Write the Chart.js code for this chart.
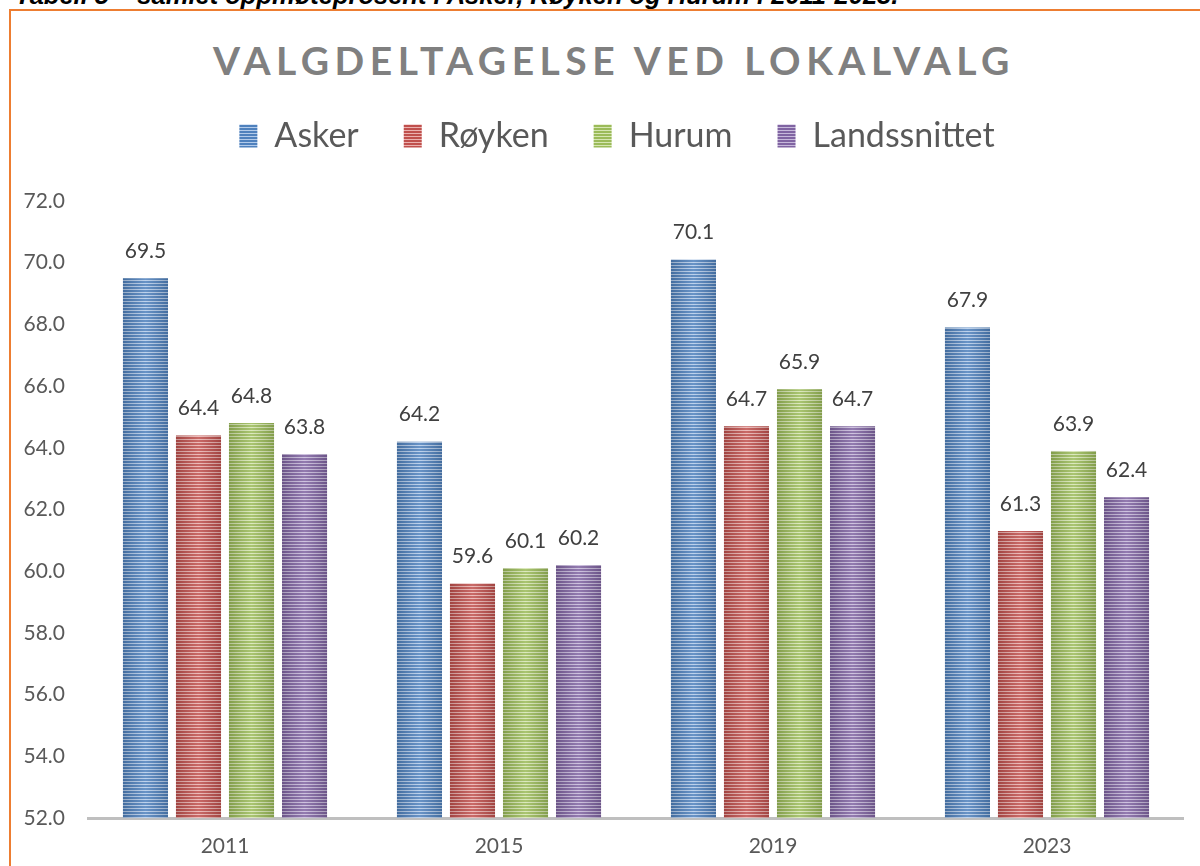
<!DOCTYPE html>
<html>
<head>
<meta charset="utf-8">
<script src="https://cdn.jsdelivr.net/npm/chart.js@4/dist/chart.umd.min.js"></script>
<style>
  html, body { margin: 0; padding: 0; background: #fff; overflow: hidden; }
  body { width: 1200px; height: 866px; position: relative; }
  #caption {
    position: absolute; left: 15px; top: -17px; white-space: nowrap;
    font: italic bold 25.5px "Liberation Sans", Arial, sans-serif; line-height: 25px; color: #000;
  }
  #frame {
    position: absolute; left: 9px; top: 9px; width: 1300px; height: 1000px;
    border: 2px solid #ED7D31;
  }
  #title {
    position: absolute; left: 0; width: 1228px; top: 36px; text-align: center;
    font: bold 39px Lato, sans-serif; letter-spacing: 5.5px; color: #808080; line-height: 48px;
  }
  #wrap { position: absolute; left: 0; top: 0; width: 1184px; height: 866px; }
</style>
</head>
<body>
<div id="caption">Tabell 5 – samlet oppmøteprosent i Asker, Røyken og Hurum i 2011-2023.</div>
<div id="frame"></div>
<div id="title">VALGDELTAGELSE VED LOKALVALG</div>
<div id="wrap"><canvas id="chart"></canvas></div>
<script>
document.addEventListener('DOMContentLoaded', function() {
    // Data
    const years = ['2011', '2015', '2019', '2023'];
    const asker = [69.5, 64.2, 70.1, 67.9];
    const royken = [64.4, 59.6, 64.7, 61.3];
    const hurum = [64.8, 60.1, 65.9, 63.9];
    const landssnittet = [63.8, 60.2, 64.7, 62.4];
    const yTicks = [52, 54, 56, 58, 60, 62, 64, 66, 68, 70, 72];

    // horizontal stripe fill like the Excel texture
    function stripes(dark, light) {
        const c = document.createElement('canvas');
        c.width = 4; c.height = 3;
        const g = c.getContext('2d');
        g.fillStyle = dark; g.fillRect(0, 0, 4, 3);
        g.fillStyle = light; g.fillRect(0, 1, 4, 1);
        return g.createPattern(c, 'repeat');
    }

    const series = [
        { label: 'Asker', data: asker, dark: '#4F81BD', light: '#B3CBEA' },
        { label: 'Røyken', data: royken, dark: '#C0504D', light: '#EBB1AF' },
        { label: 'Hurum', data: hurum, dark: '#9BBB59', light: '#D6E6B3' },
        { label: 'Landssnittet', data: landssnittet, dark: '#8064A2', light: '#C7B9DB' }
    ];

    // cylinder-like side shading + value labels
    const barDecor = {
        id: 'barDecor',
        afterDatasetsDraw(chart) {
            const ctx = chart.ctx;
            const bottom = chart.chartArea.bottom;
            chart.data.datasets.forEach((ds, di) => {
                chart.getDatasetMeta(di).data.forEach((bar, i) => {
                    const left = bar.x - bar.width / 2, right = bar.x + bar.width / 2;
                    const grad = ctx.createLinearGradient(left, 0, right, 0);
                    grad.addColorStop(0, 'rgba(0,0,0,0.16)');
                    grad.addColorStop(0.5, 'rgba(255,255,255,0.15)');
                    grad.addColorStop(1, 'rgba(0,0,0,0.16)');
                    ctx.save();
                    ctx.fillStyle = grad;
                    ctx.fillRect(left, bar.y, bar.width, bottom - bar.y);
                    ctx.fillStyle = '#404040';
                    ctx.font = '21px Lato';
                    ctx.textAlign = 'center';
                    ctx.textBaseline = 'middle';
                    ctx.fillText(ds.data[i].toFixed(1), bar.x, bar.y - 27);
                    ctx.restore();
                });
            });
        }
    };

    // extra space between legend and plot, and legend nudged right
    const legendTweak = {
        id: 'legendTweak',
        beforeInit(chart) {
            const fit = chart.legend.fit;
            chart.legend.fit = function() {
                fit.bind(chart.legend)();
                this.height += 38;
            };
        },
        afterLayout(chart) {
            chart.legend.left += 25;
            chart.legend.right += 25;
        }
    };

    new Chart(document.getElementById('chart').getContext('2d'), {
        type: 'bar',
        data: {
            labels: years,
            datasets: series.map(s => ({
                label: s.label,
                data: s.data,
                backgroundColor: stripes(s.dark, s.light),
                borderWidth: 0,
                categoryPercentage: 0.774,
                barPercentage: 0.85
            }))
        },
        options: {
            responsive: true,
            maintainAspectRatio: false,
            animation: false,
            layout: { padding: { top: 74, left: 0, right: 0, bottom: 0 } },
            plugins: {
                legend: {
                    position: 'top',
                    labels: {
                        boxWidth: 18,
                        boxHeight: 23,
                        padding: 45,
                        color: '#595959',
                        font: { family: 'Lato', size: 34 }
                    }
                },
                tooltip: { enabled: false }
            },
            scales: {
                x: {
                    grid: { display: false, drawTicks: false },
                    border: { display: true, color: '#BFBFBF', width: 3 },
                    ticks: { color: '#595959', font: { family: 'Lato', size: 21 }, padding: 16 },
                    afterFit(scale) { scale.height = 48; }
                },
                y: {
                    min: yTicks[0],
                    max: yTicks[yTicks.length - 1],
                    afterBuildTicks(scale) { scale.ticks = yTicks.map(v => ({ value: v })); },
                    grid: { display: false, drawTicks: false },
                    border: { display: false },
                    ticks: {
                        color: '#595959',
                        font: { family: 'Lato', size: 21 },
                        padding: 23,
                        callback: v => v.toFixed(1)
                    },
                    afterFit(scale) { scale.width = 88; }
                }
            }
        },
        plugins: [barDecor, legendTweak]
    });
});
</script>
</body>
</html>
